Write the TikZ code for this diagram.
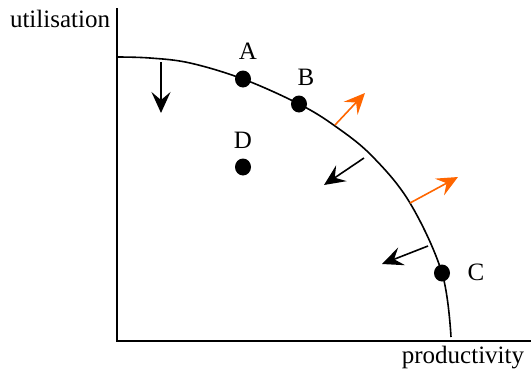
\documentclass[tikz,border=0pt]{standalone}
\usepackage{fontspec}
\setmainfont{Liberation Serif}
\usetikzlibrary{arrows.meta,shapes.geometric}
\definecolor{arrorange}{HTML}{FF6600}
\tikzset{
  lbl/.style={font=\fontsize{25}{30}\selectfont, inner sep=0pt},
  dot/.style={fill=black, ellipse, minimum width=16pt, minimum height=17pt, inner sep=0pt},
  movearrow/.style={line width=1.6pt, -{Stealth[length=21pt, width=19pt, inset=8pt]}},
  uparrow/.style={movearrow, draw=arrorange, color=arrorange},
}
\begin{document}
\begin{tikzpicture}[x=1pt, y=-1pt]
\useasboundingbox (0,0) rectangle (531,373);
% axes
\coordinate (top) at (117,8);
\coordinate (origin) at (117,341);
\coordinate (right) at (531,341);
\draw[line width=1.8pt] (top) -- (origin) -- (right);
\node[lbl] (ylab) at (60,19) {utilisation};
\node[lbl] (xlab) at (463,358) {productivity};
% frontier
\draw[line width=1.6pt] plot[smooth, tension=0.6] coordinates {(117,57) (150,58) (190,63) (243,79) (299,104) (335,126) (372,156) (410,203) (442,273) (451,337)};
% points
\node[dot] (A) at (243,79) {};
\node[dot] (B) at (299,104) {};
\node[dot] (C) at (442,273) {};
\node[dot] (D) at (243,167) {};
\node[lbl] (Al) at (248,51) {A};
\node[lbl] (Bl) at (306,77) {B};
\node[lbl] (Cl) at (476,272) {C};
\node[lbl] (Dl) at (243,140) {D};
% arrows
\coordinate (d1s) at (161,62); \coordinate (d1e) at (161,113);
\draw[movearrow] (d1s) -- (d1e);
\coordinate (o1s) at (335,125); \coordinate (o1e) at (365,93);
\draw[uparrow] (o1s) -- (o1e);
\coordinate (d2s) at (364,158); \coordinate (d2e) at (324,185);
\draw[movearrow] (d2s) -- (d2e);
\coordinate (o2s) at (410,203); \coordinate (o2e) at (458,177);
\draw[uparrow] (o2s) -- (o2e);
\coordinate (d3s) at (428,246); \coordinate (d3e) at (382,264);
\draw[movearrow] (d3s) -- (d3e);
\end{tikzpicture}
\end{document}
